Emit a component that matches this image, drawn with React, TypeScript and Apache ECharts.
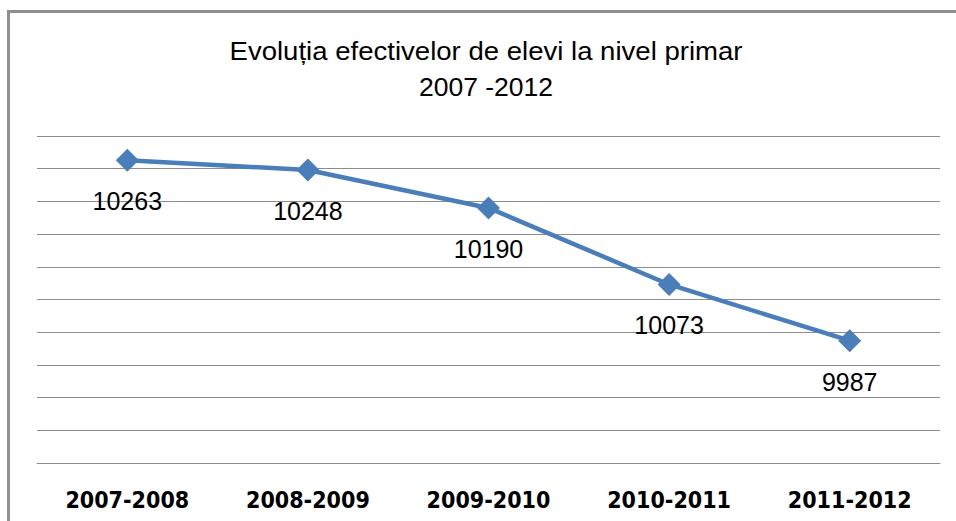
import React, { useEffect, useRef } from "react";
import * as echarts from "echarts";

const titleLines = ["Evoluția efectivelor de elevi la nivel primar", "2007 -2012"];
const categories = ["2007-2008", "2008-2009", "2009-2010", "2010-2011", "2011-2012"];
const values = [10263, 10248, 10190, 10073, 9987];
const yMin = 9800;
const yMax = 10300;
const yStep = 50;

const COND = "'DejaVu Sans Condensed', 'Liberation Sans', sans-serif";
const SANS = "'Liberation Sans', Arial, sans-serif";

export default function App() {
  const ref = useRef<HTMLDivElement>(null);
  useEffect(() => {
    if (!ref.current) return;
    const chart = echarts.init(ref.current, null, { renderer: "svg" });
    chart.setOption({
      animation: false,
      backgroundColor: "#ffffff",
      graphic: [
        {
          type: "rect",
          shape: { x: 8.5, y: 11.5, width: 1000, height: 600 },
          style: { fill: "none", stroke: "#8f8f8f", lineWidth: 3 },
          silent: true,
        },
        {
          type: "text",
          x: 486,
          y: 51,
          scaleX: 1.06,
          style: {
            text: titleLines[0],
            textAlign: "center",
            textVerticalAlign: "middle",
            fontFamily: SANS,
            fontSize: 26,
            fill: "#000000",
          },
        },
        {
          type: "text",
          x: 486,
          y: 87,
          scaleX: 1.02,
          style: {
            text: titleLines[1],
            textAlign: "center",
            textVerticalAlign: "middle",
            fontFamily: SANS,
            fontSize: 26,
            fill: "#000000",
          },
        },
      ],
      grid: { left: 37, right: 16, top: 136, bottom: 58 },
      xAxis: {
        type: "category",
        data: categories,
        boundaryGap: true,
        axisLine: { show: true, lineStyle: { color: "#8c8c8c", width: 1 } },
        axisTick: { show: false },
        axisLabel: {
          interval: 0,
          fontFamily: COND,
          fontWeight: "bold",
          fontSize: 23,
          color: "#000000",
          margin: 25,
        },
      },
      yAxis: {
        type: "value",
        min: yMin,
        max: yMax,
        interval: yStep,
        axisLine: { show: false },
        axisTick: { show: false },
        axisLabel: { show: false },
        splitLine: { show: true, lineStyle: { color: "#8c8c8c", width: 1 } },
      },
      series: [
        {
          type: "line",
          data: values,
          symbol: "diamond",
          symbolSize: 23,
          showAllSymbol: true,
          lineStyle: { color: "#4A7EBB", width: 4.5 },
          itemStyle: { color: "#4A7EBB" },
          label: {
            show: true,
            position: "inside",
            offset: [0, 41],
            fontFamily: SANS,
            fontSize: 25,
            color: "#000000",
          },
        },
      ],
    });
    return () => chart.dispose();
  }, []);
  return (
    <div
      ref={ref}
      style={{ position: "fixed", left: 0, top: 0, width: 956, height: 521 }}
    />
  );
}
